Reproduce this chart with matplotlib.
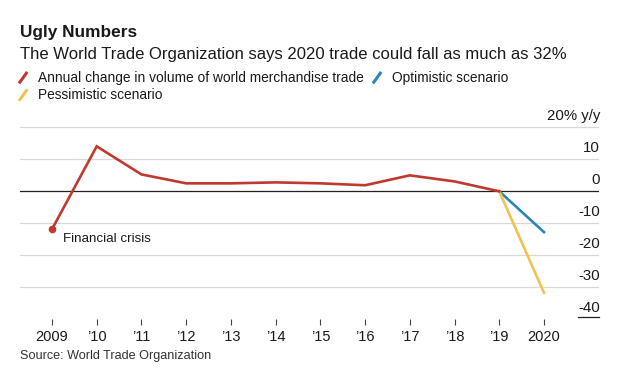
import numpy as np
import matplotlib.pyplot as plt
from matplotlib.lines import Line2D
from matplotlib.legend_handler import HandlerBase
import matplotlib.transforms as mtransforms

plt.rcParams['font.family'] = ['Liberation Sans', 'DejaVu Sans']

# data (annual % change, y/y)
years = [2009, 2010, 2011, 2012, 2013, 2014, 2015, 2016, 2017, 2018, 2019]
trade = [-12.0, 14.0, 5.2, 2.4, 2.4, 2.7, 2.4, 1.8, 4.9, 3.0, -0.1]
scen_years = [2019, 2020]
optimistic = [-0.1, -12.9]
pessimistic = [-0.1, -31.9]
year_labels = ['2009', '\u201910', '\u201911', '\u201912', '\u201913', '\u201914',
               '\u201915', '\u201916', '\u201917', '\u201918', '\u201919', '2020']
y_ticks = [20, 10, 0, -10, -20, -30, -40]

RED = '#c0392f'
BLUE = '#2a86b9'
YELLOW = '#f0c253'
TXT = '#1a1a1a'


class SlashHandler(HandlerBase):
    # legend key drawn as a short slanted stroke
    def create_artists(self, legend, orig_handle, xdescent, ydescent,
                       width, height, fontsize, trans):
        x0, x1 = -xdescent, -xdescent + width
        y0, y1 = -ydescent - 0.15 * height, -ydescent + 1.05 * height
        ln = Line2D([x0, x1], [y0, y1], color=orig_handle.get_color(),
                    lw=2.2, solid_capstyle='butt')
        ln.set_transform(trans)
        return [ln]


fig = plt.figure(figsize=(6.18, 3.73), dpi=100)
W, H = 618, 373
ax = fig.add_axes([20 / W, 1 - 318.6 / H, 579 / W, 193 / H])

ax.set_xlim(2008.285, 2021.23)
ax.set_ylim(-40, 20.5)

lab_shift = mtransforms.ScaledTranslation(0, 4 / 100, fig.dpi_scale_trans)
for v in y_ticks:
    if v == 0:
        ax.axhline(v, color='#222222', lw=0.9, zorder=1)
    elif v == -40:
        ax.axhline(v + 0.4, xmin=1 - 21 / 579, xmax=1, color='#222222', lw=0.9,
                   zorder=1, clip_on=False)
    else:
        ax.axhline(v, color='#d8d8d8', lw=0.9, zorder=0)
    lab = '20% y/y' if v == 20 else str(v)
    t = ax.text(1.002, v, lab, ha='right', va='bottom', fontsize=10.8, color=TXT)
    t.set_transform(ax.get_yaxis_transform() + lab_shift)

ax.plot(years, trade, color=RED, lw=1.9, zorder=3, solid_joinstyle='miter')
ax.plot(years[:1], trade[:1], 'o', color=RED, ms=4.5, zorder=4)
ax.plot(scen_years, optimistic, color=BLUE, lw=1.9, zorder=2)
ax.plot(scen_years, pessimistic, color=YELLOW, lw=1.9, zorder=2)

ax.annotate('Financial crisis', xy=(years[0], trade[0]), xytext=(8, -7),
            textcoords='offset points', ha='left', va='center',
            fontsize=9.6, color=TXT)

all_years = years + scen_years[1:]
ax.set_xticks(all_years)
ax.set_xticklabels(year_labels)
ax.tick_params(axis='x', length=4, width=0.8, color='#444444', pad=4.5,
               labelsize=10.5, labelcolor=TXT)
ax.set_yticks([])
for s in ax.spines.values():
    s.set_visible(False)

# title block
fig.text(20 / W, 1 - 33 / H, 'Ugly Numbers', fontsize=12.4, fontweight='bold',
         color=TXT, va='center', ha='left')
fig.text(20 / W, 1 - 54.5 / H,
         'The World Trade Organization says 2020 trade could fall as much as 32%',
         fontsize=12.0, color=TXT, va='center', ha='left')

handles = [Line2D([], [], color=RED), Line2D([], [], color=YELLOW),
           Line2D([], [], color=BLUE)]
labels = ['Annual change in volume of world merchandise trade',
          'Pessimistic scenario', 'Optimistic scenario']
fig.legend(handles, labels, handler_map={Line2D: SlashHandler()},
           loc='upper left', bbox_to_anchor=(19 / W, 1 - 71 / H),
           bbox_transform=fig.transFigure, ncol=2, frameon=False,
           fontsize=9.9, handlelength=0.6, handleheight=0.7,
           handletextpad=0.75, columnspacing=0.7, borderpad=0,
           borderaxespad=0, labelspacing=0.25, labelcolor=TXT)

fig.text(20 / W, 1 - 356 / H, 'Source: World Trade Organization',
         fontsize=9.1, color='#333333', va='center', ha='left')

fig.savefig('out.png', dpi=100, facecolor='white')
